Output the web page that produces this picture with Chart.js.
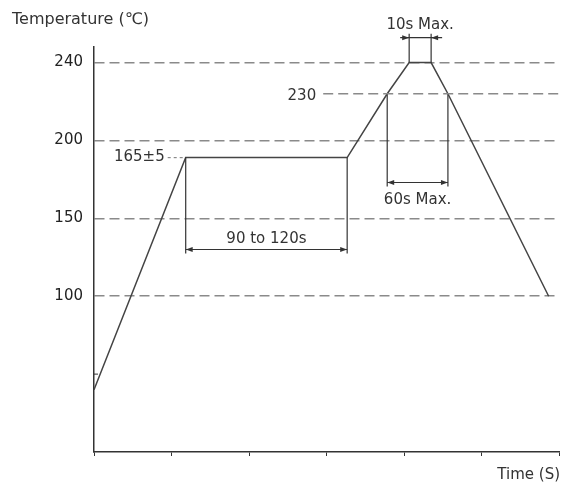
<!DOCTYPE html>
<html>
<head>
<meta charset="utf-8">
<script src="https://cdn.jsdelivr.net/npm/chart.js@4/dist/chart.umd.min.js"></script>
<style>
  html, body { margin: 0; padding: 0; background: #fff; }
  #profile { display: block; }
</style>
</head>
<body>
<canvas id="profile" width="563" height="485"></canvas>
<script>
// Reflow profile (time in s, temperature in C)
const timeSec = [0, 71, 196, 227, 244, 261, 274, 352];
const tempC   = [40, 165, 165, 230, 240, 240, 230, 100];

// tick labels on the temperature axis
const tempTicks = [100, 150, 200, 240];
const minorTicks = [50];
const timeTicksEvery = 60;

// the drawing is schematic: temperature -> axis position
const axisKnots = [[0, 0], [100, 100], [150, 150], [165, 189], [200, 200], [230, 230], [240, 250]];

function toAxis(t) {
    for (let i = 1; i < axisKnots.length; i++) {
        const [t0, a0] = axisKnots[i - 1];
        const [t1, a1] = axisKnots[i];
        if (t <= t1 || i === axisKnots.length - 1) {
            return a0 + (t - t0) * (a1 - a0) / (t1 - t0);
        }
    }
}

const INK = "#333";
const GRID = "#8a8a8a";
const FONT = "'DejaVu Sans', sans-serif";

// dimension lines: between two profile points, arrow level in axis units
const dims = [
    { from: 1, to: 2, level: 130, text: "90 to 120s", dy: -10, outside: false },
    { from: 3, to: 6, level: 173, text: "60s Max.", dy: 18, outside: false },
    { from: 4, to: 5, level: 266, text: "10s Max.", dy: -13, outside: true }
];

function arrowHead(ctx, tipX, y, dir) {
    ctx.beginPath();
    ctx.moveTo(tipX, y);
    ctx.lineTo(tipX - dir * 7, y - 2.5);
    ctx.lineTo(tipX - dir * 7, y + 2.5);
    ctx.closePath();
    ctx.fill();
}

const profileNotes = {
    id: "profileNotes",
    afterDraw(chart) {
        const { ctx, chartArea, scales: { x, y } } = chart;
        const px = i => x.getPixelForValue(timeSec[i]);
        const py = i => y.getPixelForValue(toAxis(tempC[i]));

        ctx.save();
        ctx.strokeStyle = INK;
        ctx.fillStyle = INK;
        ctx.lineWidth = 1.2;

        dims.forEach(d => {
            const xa = px(d.from), xb = px(d.to);
            const ly = y.getPixelForValue(d.level);
            [d.from, d.to].forEach(i => {
                const p = py(i);
                const end = ly + (ly > p ? 4 : -4);
                ctx.beginPath();
                ctx.moveTo(px(i), p);
                ctx.lineTo(px(i), end);
                ctx.stroke();
            });
            ctx.beginPath();
            if (d.outside) {
                ctx.moveTo(xa - 9, ly);
                ctx.lineTo(xb + 11, ly);
                ctx.stroke();
                arrowHead(ctx, xa, ly, 1);
                arrowHead(ctx, xb, ly, -1);
            } else {
                ctx.moveTo(xa, ly);
                ctx.lineTo(xb, ly);
                ctx.stroke();
                arrowHead(ctx, xa, ly, -1);
                arrowHead(ctx, xb, ly, 1);
            }
            ctx.font = "15px " + FONT;
            ctx.textAlign = "center";
            ctx.textBaseline = "middle";
            ctx.fillText(d.text, (xa + xb) / 2, ly + d.dy);
        });

        // plateau label with dotted leader
        ctx.font = "15px " + FONT;
        ctx.textAlign = "right";
        ctx.textBaseline = "middle";
        ctx.fillText("165±5", px(1) - 21, py(1));
        ctx.strokeStyle = GRID;
        ctx.setLineDash([3, 3]);
        ctx.beginPath();
        ctx.moveTo(px(1) - 18, py(1));
        ctx.lineTo(px(1) - 1, py(1));
        ctx.stroke();

        // 230 level, dashed from its label to the right edge
        const y230 = y.getPixelForValue(toAxis(230));
        ctx.fillText("230", px(3) - 71, y230 + 2);
        ctx.setLineDash([10, 5]);
        ctx.lineWidth = 1.5;
        ctx.beginPath();
        ctx.moveTo(px(3) - 64, y230);
        ctx.lineTo(chartArea.right, y230);
        ctx.stroke();
        ctx.setLineDash([]);

        // minor ticks on the temperature axis
        ctx.strokeStyle = INK;
        ctx.lineWidth = 1;
        minorTicks.forEach(t => {
            const yy = y.getPixelForValue(toAxis(t));
            ctx.beginPath();
            ctx.moveTo(chartArea.left, yy);
            ctx.lineTo(chartArea.left + 4, yy);
            ctx.stroke();
        });

        // axis titles
        ctx.fillStyle = INK;
        ctx.textAlign = "left";
        ctx.font = "16px " + FONT;
        ctx.fillText("Temperature (℃)", 12, 20);
        ctx.textAlign = "right";
        ctx.font = "15px " + FONT;
        ctx.fillText("Time (S)", chart.width - 3, chartArea.bottom + 23);
        ctx.restore();
    }
};

new Chart(document.getElementById("profile"), {
    type: "line",
    data: {
        datasets: [{
            data: timeSec.map((t, i) => ({ x: t, y: toAxis(tempC[i]) })),
            borderColor: "#444",
            borderWidth: 1.5,
            pointRadius: 0,
            tension: 0,
            fill: false
        }]
    },
    options: {
        responsive: false,
        animation: false,
        layout: { padding: { left: 0, right: 4, top: 47, bottom: 33 } },
        plugins: { legend: { display: false }, tooltip: { enabled: false } },
        scales: {
            x: {
                type: "linear",
                min: 0,
                max: 360,
                ticks: { display: false, stepSize: timeTicksEvery },
                grid: { drawOnChartArea: false, drawTicks: true, tickLength: 4, color: INK },
                border: { color: INK, width: 1.5 },
                afterFit: s => { s.height = 0; }
            },
            y: {
                type: "linear",
                min: 0,
                max: 260,
                afterBuildTicks: s => {
                    s.ticks = tempTicks.map(t => ({ value: toAxis(t), label: String(t) }));
                },
                ticks: {
                    color: "#222",
                    padding: 11,
                    font: { family: FONT, size: 15 },
                    callback: (v) => {
                        const k = tempTicks.find(t => toAxis(t) === v);
                        return k === undefined ? "" : String(k);
                    }
                },
                grid: { color: GRID, lineWidth: 1.5, drawTicks: false },
                border: { color: INK, width: 1.5, dash: [10, 5] },
                afterFit: s => { s.width = 94; }
            }
        }
    },
    plugins: [profileNotes]
});
</script>
</body>
</html>
